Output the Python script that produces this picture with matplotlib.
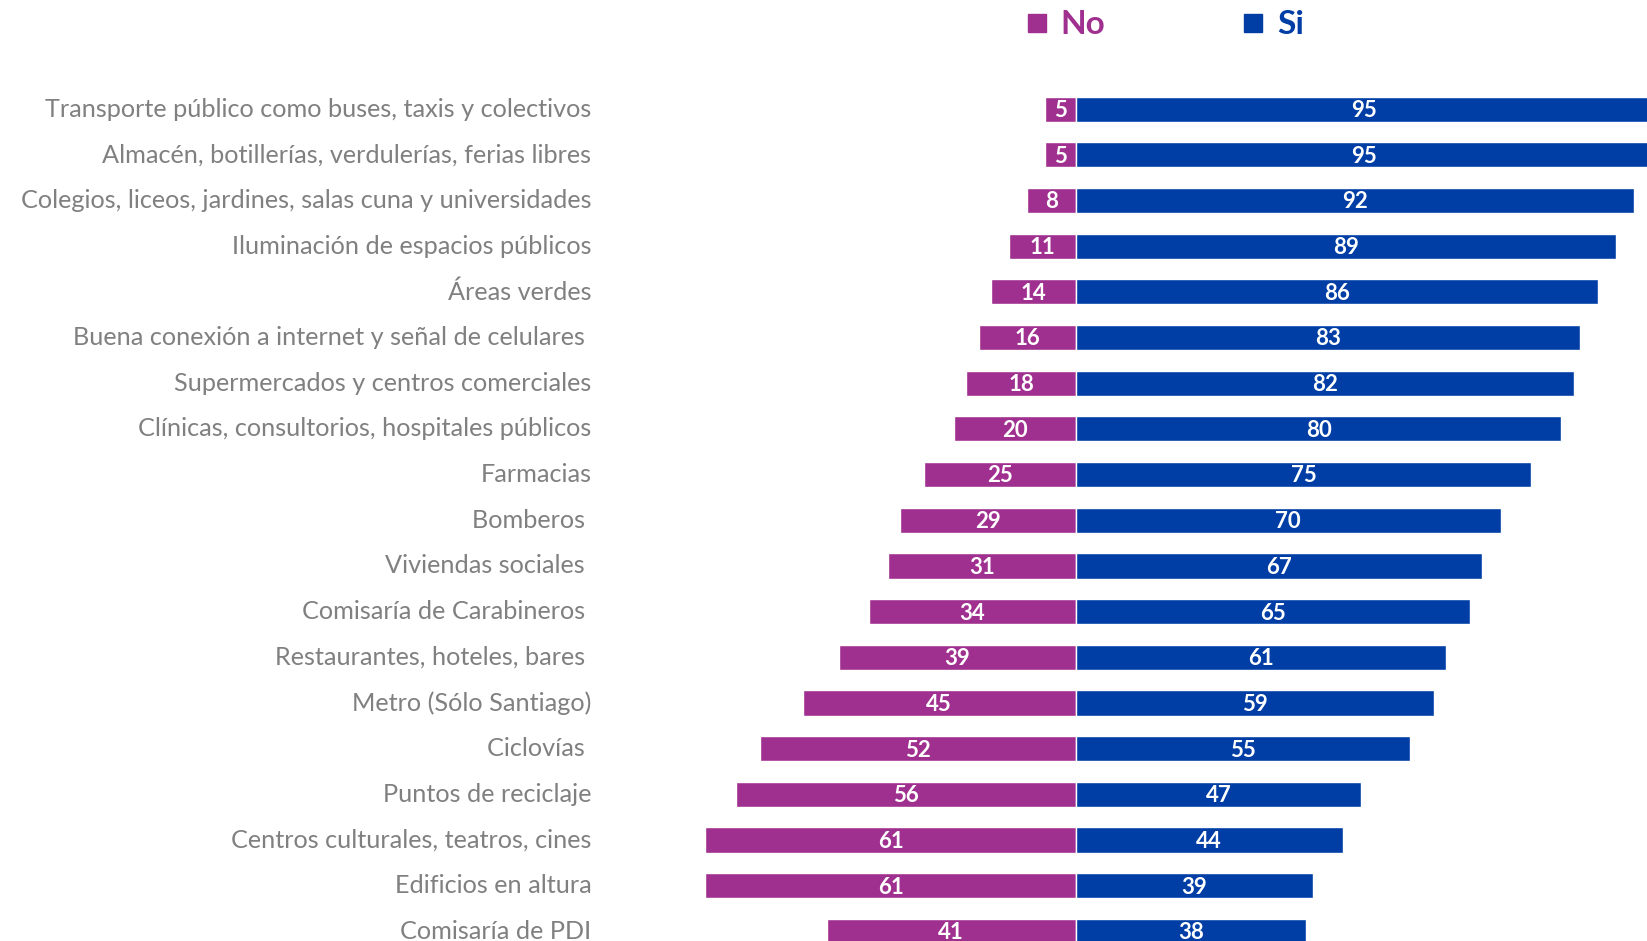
import matplotlib.pyplot as plt
from matplotlib.lines import Line2D

categories = [
    'Transporte público como buses, taxis y colectivos',
    'Almacén, botillerías, verdulerías, ferias libres',
    'Colegios, liceos, jardines, salas cuna y universidades',
    'Iluminación de espacios públicos',
    'Áreas verdes',
    'Buena conexión a internet y señal de celulares ',
    'Supermercados y centros comerciales',
    'Clínicas, consultorios, hospitales públicos',
    'Farmacias',
    'Bomberos ',
    'Viviendas sociales ',
    'Comisaría de Carabineros ',
    'Restaurantes, hoteles, bares ',
    'Metro (Sólo Santiago)',
    'Ciclovías ',
    'Puntos de reciclaje',
    'Centros culturales, teatros, cines',
    'Edificios en altura',
    'Comisaría de PDI',
]
no_vals = [5, 5, 8, 11, 14, 16, 18, 20, 25, 29, 31, 34, 39, 45, 52, 56, 61, 61, 41]
si_vals = [95, 95, 92, 89, 86, 83, 82, 80, 75, 70, 67, 65, 61, 59, 55, 47, 44, 39, 38]

NO_COLOR = '#A0308F'
SI_COLOR = '#003DA5'
LABEL_COLOR = '#808080'

plt.rcParams['font.family'] = ['Lato', 'DejaVu Sans']

fig = plt.figure(figsize=(16.47, 9.41), dpi=100)
ax = fig.add_axes([0, 0, 1, 1])

ys = list(range(len(categories)))
ax.barh(ys, [-v for v in no_vals], height=0.55, color=NO_COLOR, edgecolor='white', linewidth=1)
ax.barh(ys, si_vals, height=0.55, color=SI_COLOR, edgecolor='white', linewidth=1)

for y, n, s in zip(ys, no_vals, si_vals):
    ax.text(-n / 2, y + 0.03, str(n), ha='center', va='center', color='white',
            fontsize=16, fontweight='bold')
    ax.text(s / 2, y + 0.03, str(s), ha='center', va='center', color='white',
            fontsize=16, fontweight='bold')

lbl_tr = ax.get_yaxis_transform()
for y, cat in zip(ys, categories):
    ax.text(0.359, y, cat, transform=lbl_tr, ha='right', va='center',
            color=LABEL_COLOR, fontsize=18.2)

ax.set_xlim(-177.2, 94.1)
ax.set_ylim(18.21, -2.39)
ax.axis('off')

handles = [
    Line2D([], [], marker='s', linestyle='none', color=NO_COLOR, markersize=13),
    Line2D([], [], marker='s', linestyle='none', color=SI_COLOR, markersize=13),
]
leg = fig.legend(handles, ['No', 'Si'], loc='center left', bbox_to_anchor=(1007 / 1647, 1 - 25 / 941),
                 ncol=2, frameon=False, handletextpad=0.2, columnspacing=3.95, handlelength=1.0,
                 prop={'size': 24, 'weight': 'bold'}, labelcolor='linecolor', borderaxespad=0)

fig.savefig('out.png', dpi=100)
